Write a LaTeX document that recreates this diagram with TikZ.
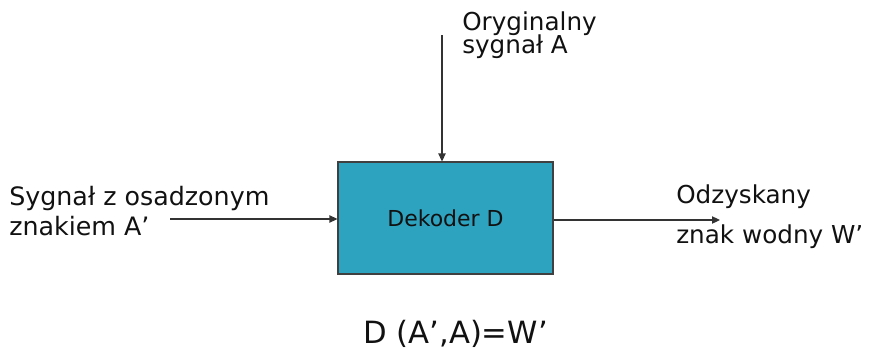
\documentclass[tikz,border=0pt]{standalone}
\usepackage{fontspec}
\setmainfont{DejaVu Sans}
\usetikzlibrary{arrows.meta}
\definecolor{boxblue}{HTML}{2EA3C0}
\definecolor{ink}{HTML}{111111}
\begin{document}
\begin{tikzpicture}[x=0.75pt,y=-0.75pt,
  lbl/.style={anchor=base west, inner sep=0pt, text=ink, font=\fontsize{18.5}{20}\selectfont},
  conn/.style={draw=black!80, line width=0.8pt, -{Triangle[length=6pt,width=5.5pt]}},
  block/.style={draw=black!75, fill=boxblue, line width=0.8pt, inner sep=0pt,
    minimum width=161.25pt, minimum height=84pt, text=ink,
    font=\fontsize{16.5}{18}\selectfont}]
\useasboundingbox (0,0) rectangle (872,350);

% decoder block
\node[block] (dec) at (445.5,218) {Dekoder D};

% original signal from above
\coordinate (topin) at (442,35);
\draw[conn] (topin) -- (dec.north -| topin);
\node[lbl] (orig1) at (462,30) {Oryginalny};
\node[lbl] (orig2) at (462,53) {sygnał A};

% watermarked signal from the left
\coordinate (leftin) at (170,219);
\draw[conn] (leftin) -- (dec.west |- leftin);
\node[lbl, font=\fontsize{19}{20}\selectfont] (sig1) at (9,205) {Sygnał z osadzonym};
\node[lbl, font=\fontsize{19}{20}\selectfont] (sig2) at (9,235) {znakiem A’};

% recovered watermark to the right
\coordinate (rightout) at (720,220);
\draw[conn] (dec.east |- rightout) -- (rightout);
\node[lbl] (out1) at (676,203) {Odzyskany};
\node[lbl] (out2) at (676,243) {znak wodny W’};

% decoding formula
\node[lbl, font=\fontsize{23}{25}\selectfont] (formula) at (363,343) {D (A’,A)=W’};
\end{tikzpicture}
\end{document}
